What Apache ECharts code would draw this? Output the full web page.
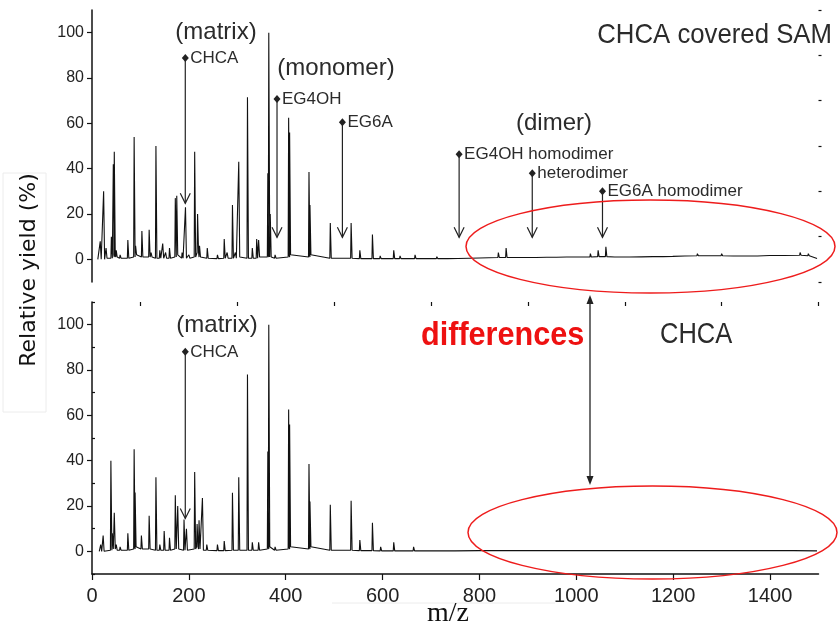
<!DOCTYPE html>
<html>
<head>
<meta charset="utf-8">
<script src="https://cdn.jsdelivr.net/npm/echarts@6/dist/echarts.min.js"></script>
<style>
  html, body { margin: 0; background: #fff; }
  #chart { width: 840px; height: 627px; }
</style>
</head>
<body>
<div id="chart"></div>
<script>
// peaks: [m/z, relative yield, baseline at the foot]
const topPeaks = [
  [17, 8, 0], [24, 30, 0], [29, 5, 0.5], [40, 10, 0.5], [44, 42, 1], [46, 47.5, 2], [50, 4, 1],
  [58, 2, 0.5], [74, 8.5, 0.5], [87, 54, 1], [90, 6, 2], [103, 12.5, 1], [118, 13, 1], [122, 3, 1],
  [132, 50, 0.5], [140, 4, 0.5], [146, 7, 0.5], [152, 3, 0.5], [160, 5, 0.5], [172, 27, 1],
  [175, 28, 2], [186, 3, 0.5], [193, 23, 0.5], [200, 2, 0.5], [212, 47.5, 1], [218, 20, 3],
  [222, 6, 1], [238, 5, 0.5], [259, 2, 0.3], [273, 9, 0.5], [279, 3, 0.5], [290, 24, 0.5],
  [296, 3, 0.5], [303, 43, 1], [321, 71.5, 0.5], [331, 5, 0.5], [340, 9, 0.5], [344, 8.5, 1],
  [363, 38, 1], [365, 100, 2], [368, 20, 1], [378, 2, 0.5], [406, 62.5, 1], [408, 56, 2],
  [448, 38.5, 1], [450, 24, 2], [492, 16, 0.5], [535, 16, 0.5], [553, 4, 0.3], [579, 11, 0.3],
  [595, 1.5, 0.3], [623, 4, 0.3], [636, 1.5, 0.3], [667, 2, 0.3], [690, 1, 0.3], [712, 1.2, 0.3],
  [735, 1, 0.3], [757, 1.2, 0.4], [780, 0.9, 0.5], [801, 1, 0.6], [820, 1.2, 0.7], [839, 3, 0.8],
  [855, 5, 0.8], [870, 1.4, 0.8], [894, 1.5, 0.8], [918, 1.2, 0.8], [940, 1.5, 0.9], [960, 1.2, 0.9],
  [981, 1.5, 1], [1005, 1.3, 1], [1029, 2.5, 1], [1045, 4, 1.2], [1061, 5.5, 1.2], [1080, 1.8, 1],
  [1111, 1.5, 1], [1135, 1.4, 1.1], [1159, 1.8, 1.2], [1180, 1.6, 1.2], [1200, 2, 1.3],
  [1225, 2.2, 1.5], [1250, 2.5, 1.6], [1275, 2.2, 1.6], [1300, 2.5, 1.6], [1325, 2.1, 1.5],
  [1350, 2.2, 1.5], [1375, 2.1, 1.5], [1400, 2.5, 1.7], [1430, 2.3, 1.7], [1462, 3, 1.8],
  [1479, 2.5, 1.6]
];
const bottomPeaks = [
  [18, 3, 0], [23, 7, 0], [39, 40, 0.5], [42, 8, 1], [46, 17, 1], [50, 3, 0.5], [58, 2, 0.5],
  [74, 8, 0.5], [87, 45, 1], [89, 26, 2], [102, 7, 1], [118, 15.7, 1], [132, 32.7, 0.5], [140, 3, 0.5],
  [149, 9, 0.5], [160, 6, 0.5], [172, 24.7, 1], [177, 20, 1], [190, 14, 0.5], [195, 10, 0.5],
  [212, 35, 1], [217, 12, 2], [221, 13.7, 1], [228, 23.5, 0.5], [237, 3, 0.5], [259, 3, 0.3],
  [273, 4.5, 0.3], [290, 25.8, 0.5], [303, 32.7, 0.5], [321, 78, 0.5], [331, 4, 0.5], [344, 4, 0.5],
  [363, 44, 1], [365, 100, 2], [378, 2, 0.5], [406, 62.6, 1], [408, 56, 2], [448, 38.5, 1],
  [450, 22, 2], [492, 20.5, 0.5], [535, 22.3, 0.5], [553, 5, 0.3], [579, 12.6, 0.3], [596, 2, 0.2],
  [623, 4, 0.2], [664, 2, 0.2], [690, 1, 0.2], [712, 1, 0.2], [750, 0.8, 0.2], [800, 0.7, 0.3],
  [850, 0.8, 0.3], [900, 0.8, 0.3], [950, 0.7, 0.3], [1000, 0.7, 0.3], [1062, 1, 0.3],
  [1130, 0.6, 0.3], [1200, 0.6, 0.3], [1250, 0.6, 0.3], [1300, 0.6, 0.3], [1350, 0.6, 0.3],
  [1400, 0.6, 0.3], [1450, 0.6, 0.3]
];
const topEnds = [[12, 0], [1497, 0.4]];
const bottomEnds = [[15, 0], [1497, 0.2]];

const xTickLabels = [0, 200, 400, 600, 800, 1000, 1200, 1400];
const xMinorTicks = [100, 300, 500, 700, 900, 1100, 1300, 1500];
const yTickLabels = [0, 20, 40, 60, 80, 100];
const yMinorTicks = [-10, 10, 30, 50, 70, 90, 110];

// peak assignments: [label, m/z, label height, arrow tip height]
const topMarks = [
  ['CHCA', 192.6, 88.8, 24.7],
  ['EG4OH', 382, 70.7, 9.7],
  ['EG6A', 517, 60.5, 9.7],
  ['EG4OH homodimer', 758, 46.4, 9.7],
  ['heterodimer', 909, 38, 9.7],
  ['EG6A homodimer', 1054, 30, 9.7]
];
const bottomMarks = [
  ['CHCA', 192.6, 88, 14.5]
];

function profile(ends, peaks) {
  const pts = [ends[0]];
  peaks.forEach(p => {
    pts.push([p[0] - 1, p[2]], [p[0], p[1]], [p[0] + 2, p[2]]);
  });
  pts.push(ends[1]);
  return pts;
}

const TXT = '#2b2b2b';
const labelFont = "'Liberation Sans', Arial, sans-serif";

function mainY(grid) {
  return {
    type: 'value', gridIndex: grid, min: -10, max: 110,
    axisLine: { show: true, lineStyle: { color: '#111', width: 1.5 } },
    axisTick: { show: true, customValues: yTickLabels, length: 5, lineStyle: { color: '#111', width: 1.2 } },
    axisLabel: { customValues: yTickLabels, margin: 8, color: '#222', fontSize: 16, fontFamily: labelFont, formatter: v => String(v) },
    splitLine: { show: false }
  };
}
function minorY(grid) {
  return {
    type: 'value', gridIndex: grid, min: -10, max: 110,
    axisLine: { show: false },
    axisTick: { show: true, customValues: yMinorTicks, length: 3, lineStyle: { color: '#111', width: 1.2 } },
    axisLabel: { show: false },
    splitLine: { show: false }
  };
}

const chart = echarts.init(document.getElementById('chart'));

chart.setOption({
  animation: false,
  backgroundColor: '#fff',
  grid: [
    { left: 92, right: 21.5, top: 10, height: 272 },
    { left: 92, right: 21.5, top: 302, height: 272 }
  ],
  xAxis: [
    { type: 'value', gridIndex: 0, min: 0, max: 1500, show: false },
    {
      type: 'value', gridIndex: 1, min: 0, max: 1500, interval: 200,
      axisLine: { onZero: false, lineStyle: { color: '#111', width: 1.5 } },
      axisTick: { customValues: xTickLabels, length: 6, lineStyle: { color: '#111', width: 1.2 } },
      axisLabel: {
        customValues: xTickLabels, margin: 12, color: '#222', fontSize: 20,
        fontFamily: "'Liberation Sans Narrow', 'Liberation Sans', sans-serif",
        formatter: v => String(v)
      },
      splitLine: { show: false }
    },
    {
      type: 'value', gridIndex: 1, min: 0, max: 1500,
      axisLine: { show: false, onZero: false },
      axisTick: { inside: true, customValues: xMinorTicks, length: 4, lineStyle: { color: '#111', width: 1.2 } },
      axisLabel: { show: false },
      splitLine: { show: false }
    }
  ],
  yAxis: [mainY(0), minorY(0), mainY(1), minorY(1)],
  series: [
    {
      type: 'line', xAxisIndex: 0, yAxisIndex: 0, showSymbol: false,
      lineStyle: { color: '#111', width: 1.1 },
      data: profile(topEnds, topPeaks)
    },
    {
      type: 'line', xAxisIndex: 1, yAxisIndex: 2, showSymbol: false,
      lineStyle: { color: '#111', width: 1.1 },
      data: profile(bottomEnds, bottomPeaks)
    }
  ]
});

// annotation layer
const graphics = [];

function text(str, x, y, size, opts) {
  opts = opts || {};
  graphics.push({
    type: 'text', x: x, y: y, scaleX: opts.scaleX || 1, rotation: opts.rotation || 0, z: 10,
    style: {
      text: str, x: 0, y: 0,
      fontSize: size, fontFamily: opts.family || labelFont, fontWeight: opts.weight || 'normal',
      fill: opts.color || TXT, align: opts.align || 'center', verticalAlign: 'middle'
    }
  });
}

function arrows(marks, gridIndex) {
  marks.forEach(m => {
    const a = chart.convertToPixel({ gridIndex: gridIndex }, [m[1], m[2]]);
    const b = chart.convertToPixel({ gridIndex: gridIndex }, [m[1], m[3]]);
    graphics.push({
      type: 'line', z: 10,
      shape: { x1: a[0], y1: a[1], x2: b[0], y2: b[1] },
      style: { stroke: '#222', lineWidth: 1.2 }
    });
    graphics.push({
      type: 'polyline', z: 10,
      shape: { points: [[b[0] - 5, b[1] - 10], [b[0], b[1]], [b[0] + 5, b[1] - 10]] },
      style: { stroke: '#222', lineWidth: 1.2, fill: null }
    });
    graphics.push({
      type: 'polygon', z: 10,
      shape: { points: [[a[0], a[1] - 4], [a[0] + 3.5, a[1]], [a[0], a[1] + 4], [a[0] - 3.5, a[1]]] },
      style: { fill: '#222' }
    });
    text(m[0], a[0] + 5, a[1], 17, { align: 'left' });
  });
}

arrows(topMarks, 0);
arrows(bottomMarks, 1);

text('(matrix)', 216, 32, 24);
text('(monomer)', 336, 68, 24);
text('(dimer)', 554, 123, 24);
text('CHCA covered SAM', 832, 35, 28, { align: 'right', scaleX: 0.92 });
text('(matrix)', 217, 325, 24);
text('differences', 421, 336, 34, { align: 'left', weight: 'bold', color: '#ee1111', scaleX: 0.9 });
text('CHCA', 660, 335, 30, { align: 'left', scaleX: 0.85 });
text('m/z', 448, 614, 28, { family: "'Liberation Serif', 'Times New Roman', serif", color: '#111' });
text('Relative yield (%)', 29, 270, 22, { rotation: Math.PI / 2, family: "'DejaVu Sans', sans-serif", color: '#111' });

// faint boxes left over from the pasted figure
graphics.push({
  type: 'rect', z: 1, shape: { x: 3, y: 173, width: 43, height: 239 },
  style: { fill: null, stroke: '#ececec', lineWidth: 1 }
});
graphics.push({
  type: 'line', z: 1, shape: { x1: 332, y1: 603, x2: 555, y2: 603 },
  style: { stroke: '#ececec', lineWidth: 1 }
});

// "differences" ellipses and the double arrow
graphics.push({
  type: 'ellipse', z: 12, shape: { cx: 650.5, cy: 246.5, rx: 184.5, ry: 46.5 },
  style: { fill: null, stroke: '#ee1c1c', lineWidth: 1.5 }
});
graphics.push({
  type: 'ellipse', z: 12, shape: { cx: 652.5, cy: 532.5, rx: 184.5, ry: 46.5 },
  style: { fill: null, stroke: '#ee1c1c', lineWidth: 1.5 }
});
graphics.push({
  type: 'line', z: 10, shape: { x1: 590, y1: 302, x2: 590, y2: 477 },
  style: { stroke: '#222', lineWidth: 1.3 }
});
graphics.push({
  type: 'polygon', z: 10, shape: { points: [[590, 295], [586.5, 304], [593.5, 304]] },
  style: { fill: '#222' }
});
graphics.push({
  type: 'polygon', z: 10, shape: { points: [[590, 485], [586.5, 476], [593.5, 476]] },
  style: { fill: '#222' }
});

chart.setOption({ graphic: graphics });
</script>
</body>
</html>
